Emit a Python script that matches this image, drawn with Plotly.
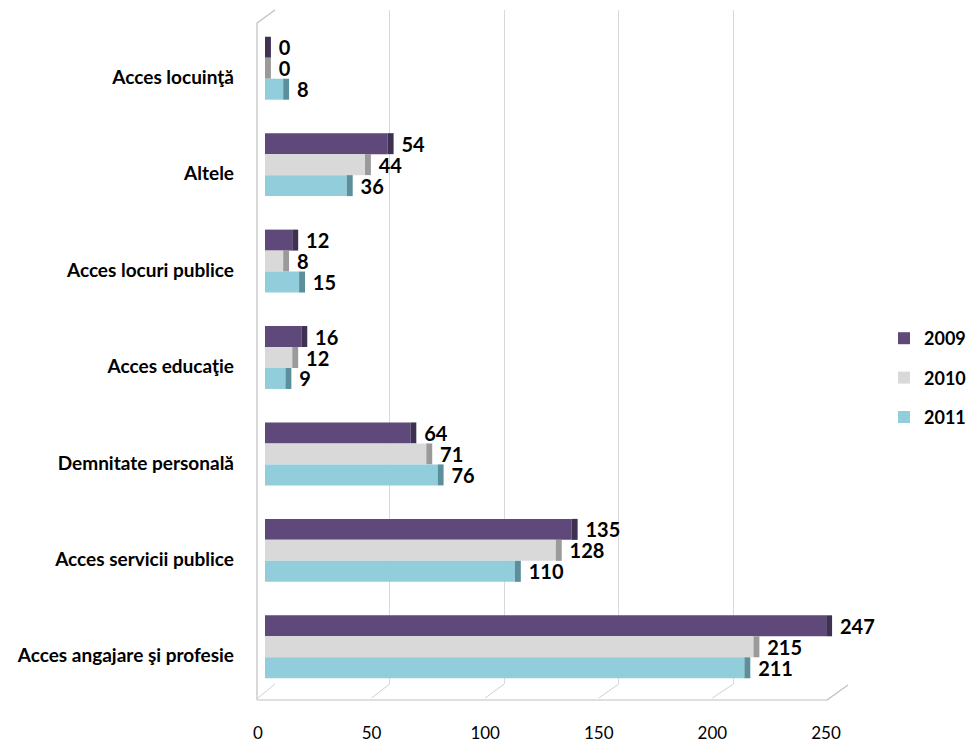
import plotly.graph_objects as go

W, H = 966, 744

categories = ["Acces locuinţă", "Altele", "Acces locuri publice", "Acces educaţie",
              "Demnitate personală", "Acces servicii publice", "Acces angajare şi profesie"]
series_names = ["2009", "2010", "2011"]
values_2009 = [0, 54, 12, 16, 64, 135, 247]
values_2010 = [0, 44, 8, 12, 71, 128, 215]
values_2011 = [8, 36, 15, 9, 76, 110, 211]
x_ticks = [0, 50, 100, 150, 200, 250]

front_colors = ["#5F497A", "#D9D9D9", "#92CDDC"]
side_colors = ["#3F3151", "#9A9A9A", "#5B8F9C"]

def px(x):
    return x / W

def py(y):
    return 1 - y / H

FONT = "Lato, 'Open Sans', sans-serif"

# geometry (pixels)
FRONT_L, FRONT_R = 265, 833      # bar axis (front)
BACK_L, BACK_R = 275, 848        # back wall gridlines
BACK_TOP, BACK_BOTTOM = 10, 684
FLOOR_Y = 700
TICK_L, TICK_R = 258, 826        # where front tick positions sit on the floor

fig = go.Figure()

# grid-only subplot (drawn first = underneath), offset to look like a back wall
fig.add_trace(go.Scatter(x=[None], y=[None], xaxis="x", yaxis="y", showlegend=False,
                         hoverinfo="skip"))

bw = 0.2176
n = len(series_names)
all_vals = [values_2009, values_2010, values_2011]
side_w = 2.6
for i, (name, vals) in enumerate(zip(series_names, all_vals)):
    off = -bw * n / 2 + i * bw
    fig.add_trace(go.Bar(
        name=name, y=categories, x=vals, orientation="h",
        xaxis="x2", yaxis="y2",
        marker=dict(color=front_colors[i], line=dict(width=0)),
        width=bw, offset=off, legendgroup=name,
    ))
    fig.add_trace(go.Bar(
        y=categories, x=[side_w] * len(vals), base=vals, orientation="h",
        xaxis="x2", yaxis="y2",
        marker=dict(color=side_colors[i], line=dict(width=0)),
        width=bw, offset=off, showlegend=False, legendgroup=name,
        text=["\u00a0" + str(v) for v in vals], textposition="outside",
        textfont=dict(family=FONT, size=20, color="#000000", weight="bold"),
        cliponaxis=False, constraintext="none", hoverinfo="skip",
    ))

frame_color = "#BFBFBF"
def seg(x0, y0, x1, y1, color=frame_color, w=1.2):
    return dict(type="line", xref="paper", yref="paper", x0=px(x0), x1=px(x1),
                y0=py(y0), y1=py(y1), line=dict(color=color, width=w))

shapes = [
    seg(257, 23, 257, FLOOR_Y),
    seg(257, 23, BACK_L, BACK_TOP),
    seg(257, FLOOR_Y, TICK_R + 1, FLOOR_Y),
    seg(TICK_R + 1, FLOOR_Y, BACK_R, BACK_BOTTOM + 1),
]
span = x_ticks[-1] - x_ticks[0]
for t in x_ticks[:-1]:
    fx = TICK_L + (t - x_ticks[0]) / span * (TICK_R - TICK_L)
    bx = BACK_L + (t - x_ticks[0]) / span * (BACK_R - BACK_L)
    shapes.append(seg(fx, FLOOR_Y - 2, bx, BACK_BOTTOM, color="#D0D0D0", w=1))

fig.update_layout(
    width=W, height=H,
    margin=dict(l=0, r=0, t=0, b=0, autoexpand=False),
    paper_bgcolor="white", plot_bgcolor="rgba(0,0,0,0)",
    barmode="overlay",
    showlegend=True,
    legend=dict(x=px(884), y=py(378), xanchor="left", yanchor="middle",
                font=dict(family=FONT, size=18, color="#000000", weight="bold"),
                traceorder="grouped", tracegroupgap=13, bgcolor="rgba(0,0,0,0)"),
    xaxis=dict(domain=[px(BACK_L), px(BACK_R)], range=[0, 250], tickvals=x_ticks,
               showgrid=True, gridcolor="#D9D9D9", gridwidth=1, showticklabels=False,
               zeroline=False, showline=False, anchor="y", fixedrange=True, automargin=False),
    yaxis=dict(domain=[py(BACK_BOTTOM), py(BACK_TOP)], range=[0, 1], visible=False,
               fixedrange=True, automargin=False),
    xaxis2=dict(domain=[px(FRONT_L), px(FRONT_R)], range=[0, 250], tickvals=x_ticks,
                showgrid=False, zeroline=False, showline=False, anchor="y2",
                ticks="", ticklabelstandoff=26, ticklabelshift=-7, automargin=False,
                tickfont=dict(family=FONT, size=17, color="#000000")),
    yaxis2=dict(domain=[py(695), py(20)], range=[6.5, -0.5], type="category",
                categoryorder="array", categoryarray=categories,
                showgrid=False, zeroline=False, showline=False, anchor="x2",
                ticks="", ticklabelstandoff=30, ticklabelshift=-9, automargin=False,
                tickfont=dict(family=FONT, size=19, color="#000000", weight="bold")),
    shapes=shapes,
    font=dict(family=FONT),
)

fig.write_html("out.html", config={"displayModeBar": False},
               post_script="document.body.style.margin='0';")
